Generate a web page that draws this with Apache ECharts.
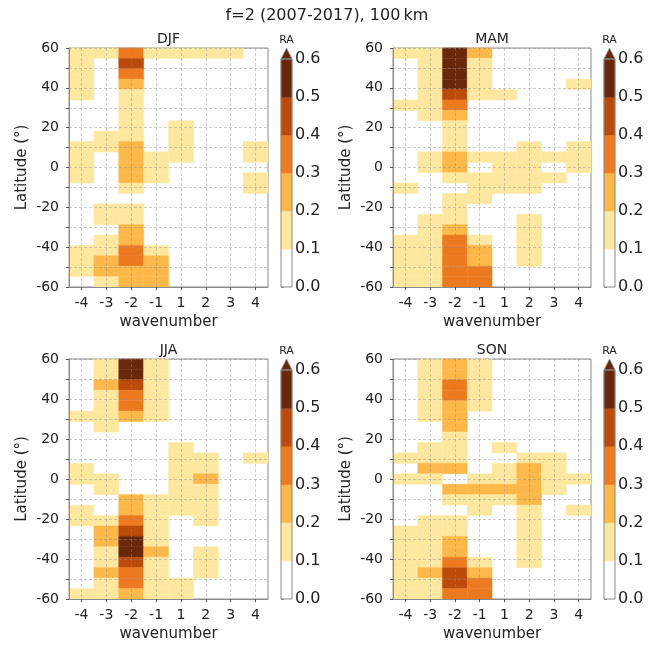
<!DOCTYPE html>
<html>
<head>
<meta charset="utf-8">
<script src="https://cdn.jsdelivr.net/npm/echarts@6/dist/echarts.min.js"></script>
<style>
  html, body { margin: 0; padding: 0; background: #ffffff; }
  #chart { width: 655px; height: 645px; }
</style>
</head>
<body>
<div id="chart"></div>
<script>
// Zonal wavenumber columns and latitude bands (centres of 23 equal bands, 60N to 60S)
const wavenumbers = ['-4', '-3', '-2', '-1', '1', '2', '3', '4'];
const latCenters = [57.39, 52.17, 46.96, 41.74, 36.52, 31.30, 26.09, 20.87, 15.65, 10.43, 5.22, 0,
                    -5.22, -10.43, -15.65, -20.87, -26.09, -31.30, -36.52, -41.74, -46.96, -52.17, -57.39];
const latStep = 120 / 23;

// Colour levels of RA
const raLevels = [0, 0.1, 0.2, 0.3, 0.4, 0.5, 0.6];
const raColors = ['#ffffff', '#fee8a0', '#fdb84a', '#ee7a20', '#bc4a0a', '#6a280a'];

// RA per latitude band (rows, north to south) and wavenumber (columns)
const raDJF = [
  [.15, .15, .35, .15, .15, .15, .15, 0],
  [.15, 0, .45, 0, 0, 0, 0, 0],
  [.15, 0, .35, 0, 0, 0, 0, 0],
  [.15, 0, .25, 0, 0, 0, 0, 0],
  [.15, 0, .15, 0, 0, 0, 0, 0],
  [0, 0, .15, 0, 0, 0, 0, 0],
  [0, 0, .15, 0, 0, 0, 0, 0],
  [0, 0, .15, 0, .15, 0, 0, 0],
  [0, .15, .15, 0, .15, 0, 0, 0],
  [.15, .15, .25, 0, .15, 0, 0, .15],
  [.15, 0, .25, .15, .15, 0, 0, .15],
  [.15, 0, .25, .15, 0, 0, 0, 0],
  [.15, 0, .25, .15, 0, 0, 0, .15],
  [0, 0, .15, 0, 0, 0, 0, .15],
  [0, 0, 0, 0, 0, 0, 0, 0],
  [0, .15, .15, 0, 0, 0, 0, 0],
  [0, .15, .15, 0, 0, 0, 0, 0],
  [0, 0, .25, 0, 0, 0, 0, 0],
  [0, .15, .25, 0, 0, 0, 0, 0],
  [.15, .15, .35, .15, 0, 0, 0, 0],
  [.15, .25, .35, .25, 0, 0, 0, 0],
  [.15, .25, .25, .25, 0, 0, 0, 0],
  [0, .15, .25, .25, 0, 0, 0, 0]
];
const raMAM = [
  [.15, .15, .55, .25, 0, 0, 0, 0],
  [0, .15, .55, .15, 0, 0, 0, 0],
  [0, .15, .55, .15, 0, 0, 0, 0],
  [0, .15, .55, .15, 0, 0, 0, .15],
  [0, .15, .45, .15, .15, 0, 0, 0],
  [.15, .15, .35, 0, 0, 0, 0, 0],
  [0, .15, .25, 0, 0, 0, 0, 0],
  [0, 0, .15, 0, 0, 0, 0, 0],
  [0, 0, .15, 0, 0, 0, 0, 0],
  [0, 0, .15, 0, 0, .15, 0, .15],
  [0, .15, .25, .15, .15, .15, .15, .15],
  [0, .15, .25, 0, .15, .15, 0, .15],
  [0, 0, .15, .15, .15, .15, .15, 0],
  [.15, 0, 0, .15, .15, .15, 0, 0],
  [0, 0, .15, .15, 0, 0, 0, 0],
  [0, 0, .15, 0, 0, 0, 0, 0],
  [0, .15, .15, 0, 0, .15, 0, 0],
  [0, .15, .25, 0, 0, .15, 0, 0],
  [.15, .15, .35, .15, 0, .15, 0, 0],
  [.15, .15, .35, .25, 0, .15, 0, 0],
  [.15, .15, .35, .25, 0, .15, 0, 0],
  [.15, .15, .35, .35, 0, 0, 0, 0],
  [.15, .15, .35, .35, 0, 0, 0, 0]
];
const raJJA = [
  [0, .15, .55, .15, 0, 0, 0, 0],
  [0, .15, .55, .15, 0, 0, 0, 0],
  [0, .25, .45, .15, 0, 0, 0, 0],
  [0, .15, .35, .15, 0, 0, 0, 0],
  [0, .15, .35, .15, 0, 0, 0, 0],
  [.15, .15, .25, .15, 0, 0, 0, 0],
  [0, .15, 0, 0, 0, 0, 0, 0],
  [0, 0, 0, 0, 0, 0, 0, 0],
  [0, 0, 0, 0, .15, 0, 0, 0],
  [0, 0, 0, 0, .15, .15, 0, .15],
  [.15, 0, 0, 0, .15, .15, 0, 0],
  [.15, .15, 0, 0, .15, .25, 0, 0],
  [0, .15, 0, 0, .15, .15, 0, 0],
  [0, 0, .25, .15, .15, .15, 0, 0],
  [.15, 0, .25, .15, .15, .15, 0, 0],
  [.15, .15, .35, .15, 0, .15, 0, 0],
  [0, .25, .45, .15, 0, 0, 0, 0],
  [0, .25, .55, .15, 0, 0, 0, 0],
  [0, .15, .55, .25, 0, .15, 0, 0],
  [0, .15, .45, .15, 0, .15, 0, 0],
  [0, .25, .35, .15, 0, .15, 0, 0],
  [0, .15, .35, .15, .15, 0, 0, 0],
  [.15, .15, .25, .15, .15, 0, 0, 0]
];
const raSON = [
  [0, .15, .25, .15, 0, 0, 0, 0],
  [0, .15, .25, .15, 0, 0, 0, 0],
  [0, .15, .35, .15, 0, 0, 0, 0],
  [0, .15, .35, .15, 0, 0, 0, 0],
  [0, .15, .25, .15, 0, 0, 0, 0],
  [0, .15, .25, 0, 0, 0, 0, 0],
  [0, 0, .25, 0, 0, 0, 0, 0],
  [0, 0, .15, 0, 0, 0, 0, 0],
  [0, .15, .15, 0, .15, 0, 0, 0],
  [.15, .15, .15, 0, 0, .15, .15, 0],
  [0, .25, .25, 0, .15, .25, .15, 0],
  [.15, .15, 0, .15, .15, .25, .15, .15],
  [0, 0, .25, .25, .25, .25, .15, 0],
  [0, 0, .15, .15, .15, .25, 0, 0],
  [0, 0, 0, .15, 0, .15, 0, .15],
  [0, .15, .15, 0, 0, .15, 0, 0],
  [.15, .15, .15, 0, 0, .15, 0, 0],
  [.15, .15, .25, 0, 0, .15, 0, 0],
  [.15, .15, .25, 0, 0, .15, 0, 0],
  [.15, .15, .35, .15, 0, .15, 0, 0],
  [.15, .25, .45, .25, 0, 0, 0, 0],
  [.15, .15, .45, .35, 0, 0, 0, 0],
  [.15, .15, .35, .35, 0, 0, 0, 0]
];

const seasons = ['DJF', 'MAM', 'JJA', 'SON'];
const seasonData = [raDJF, raMAM, raJJA, raSON];
const suptitle = 'f=2 (2007-2017), 100\u2009km';

// Panel geometry (pixels)
const panels = [
  { left: 69,  top: 48,  width: 199, height: 239, cbLeft: 281, cbTop: 59,  cbHeight: 228 },
  { left: 393, top: 48,  width: 198, height: 239, cbLeft: 604, cbTop: 59,  cbHeight: 228 },
  { left: 69,  top: 359, width: 199, height: 240, cbLeft: 281, cbTop: 370, cbHeight: 229 },
  { left: 393, top: 359, width: 198, height: 240, cbLeft: 604, cbTop: 370, cbHeight: 229 }
];
const cbWidth = 11;
const FONT = 'DejaVu Sans';
const gridLineStyle = { color: 'rgba(140,140,140,0.55)', type: [3, 2], width: 0.8 };
const frameColor = '#8c8c8c';

function renderCell(params, api) {
  const v = api.value(2);
  if (!(v >= 0.1)) return null;
  const c = api.value(0);
  const lat = api.value(1);
  const pTop = api.coord([c, lat + latStep / 2]);
  const pBot = api.coord([c, lat - latStep / 2]);
  const w = api.size([1, 0])[0];
  const color = api.visual('color');
  return {
    type: 'rect',
    shape: { x: pTop[0] - w / 2, y: pTop[1], width: w, height: pBot[1] - pTop[1] },
    style: { fill: color, stroke: color, lineWidth: 0.5 }
  };
}

function renderBar(params, api) {
  const lo = api.value(0), hi = api.value(1), ext = api.value(3);
  const color = api.visual('color');
  const a = api.coord([0, hi]);
  const b = api.coord([1, lo]);
  if (ext) {
    return {
      type: 'polygon',
      shape: { points: [[a[0], a[1]], [b[0], a[1]], [(a[0] + b[0]) / 2, a[1] - 11]] },
      style: { fill: color, stroke: frameColor, lineWidth: 0.8 }
    };
  }
  return {
    type: 'rect',
    shape: { x: a[0], y: a[1], width: b[0] - a[0], height: b[1] - a[1] },
    style: { fill: color, stroke: color, lineWidth: 0.5 }
  };
}

const grids = [], xAxes = [], yAxes = [], series = [], graphics = [];

panels.forEach((p, i) => {
  // heatmap panel
  grids.push({ left: p.left, top: p.top, width: p.width, height: p.height,
               show: true, borderColor: frameColor, borderWidth: 1, backgroundColor: 'transparent' });
  xAxes.push({
    type: 'category', gridIndex: 2 * i, data: wavenumbers, boundaryGap: true, z: 5,
    position: 'bottom',
    name: 'wavenumber', nameLocation: 'middle', nameGap: 28,
    nameTextStyle: { fontFamily: FONT, fontSize: 15, color: '#222' },
    axisLine: { show: true, onZero: false, lineStyle: { color: frameColor } },
    axisTick: { show: true, alignWithLabel: true, length: 3, lineStyle: { color: '#555' } },
    axisLabel: { fontFamily: FONT, fontSize: 14, color: '#222', margin: 9 },
    splitLine: { show: true, alignWithLabel: true, lineStyle: gridLineStyle }
  });
  yAxes.push({
    type: 'value', gridIndex: 2 * i, min: -60, max: 60, interval: 10, z: 5,
    name: 'Latitude (°)', nameLocation: 'middle', nameGap: 39,
    nameTextStyle: { fontFamily: FONT, fontSize: 15, color: '#222' },
    axisLine: { show: true, onZero: false, lineStyle: { color: frameColor } },
    axisTick: { show: true, length: 3, lineStyle: { color: '#555' } },
    axisLabel: { fontFamily: FONT, fontSize: 14, color: '#222', margin: 10,
                 formatter: v => (v % 20 === 0 ? String(v) : '') },
    splitLine: { show: true, lineStyle: gridLineStyle }
  });
  const cells = [];
  seasonData[i].forEach((row, r) => {
    row.forEach((v, c) => cells.push([c, latCenters[r], v]));
  });
  series.push({
    type: 'custom', name: seasons[i], xAxisIndex: 2 * i, yAxisIndex: 2 * i,
    renderItem: renderCell, data: cells, encode: { x: 0, y: 1 }, z: 2, silent: true
  });

  // colour bar
  grids.push({ left: p.cbLeft, top: p.cbTop, width: cbWidth, height: p.cbHeight,
               show: true, borderColor: frameColor, borderWidth: 1, backgroundColor: 'transparent', z: 4 });
  xAxes.push({ type: 'value', gridIndex: 2 * i + 1, min: 0, max: 1, show: false });
  yAxes.push({
    type: 'value', gridIndex: 2 * i + 1, min: 0, max: 0.6, interval: 0.1, position: 'right',
    axisLine: { show: false },
    axisTick: { show: true, length: 3, lineStyle: { color: '#555' } },
    axisLabel: { fontFamily: FONT, fontSize: 16, color: '#222', margin: 3,
                 formatter: v => v.toFixed(1) },
    splitLine: { show: false }
  });
  const bars = [];
  for (let k = 0; k < raLevels.length - 1; k++) {
    bars.push([raLevels[k], raLevels[k + 1], (raLevels[k] + raLevels[k + 1]) / 2, 0]);
  }
  const top = raLevels[raLevels.length - 1];
  bars.push([top, top, top - 0.05, 1]);
  series.push({
    type: 'custom', xAxisIndex: 2 * i + 1, yAxisIndex: 2 * i + 1,
    renderItem: renderBar, data: bars, encode: { y: [0, 1] }, z: 2, silent: true
  });

  // titles
  graphics.push({ type: 'text', x: p.left + p.width / 2, y: p.top - 9,
    style: { text: seasons[i], font: '14px "' + FONT + '"', fill: '#222', textAlign: 'center', textVerticalAlign: 'middle' } });
  graphics.push({ type: 'text', x: p.cbLeft + cbWidth / 2, y: p.cbTop - 19,
    style: { text: 'RA', font: '11px "' + FONT + '"', fill: '#222', textAlign: 'center', textVerticalAlign: 'middle' } });
});

graphics.push({ type: 'text', x: 327, y: 16,
  style: { text: suptitle, font: '16px "' + FONT + '"', fill: '#222', textAlign: 'center', textVerticalAlign: 'middle' } });

const pieces = [{ lt: raLevels[1], color: raColors[0] }];
for (let k = 1; k < raColors.length; k++) {
  const piece = { gte: raLevels[k], color: raColors[k] };
  if (k < raColors.length - 1) piece.lt = raLevels[k + 1];
  pieces.push(piece);
}

const chart = echarts.init(document.getElementById('chart'), null, { renderer: 'canvas' });
chart.setOption({
  animation: false,
  backgroundColor: '#ffffff',
  grid: grids,
  xAxis: xAxes,
  yAxis: yAxes,
  visualMap: {
    type: 'piecewise', show: false, dimension: 2,
    seriesIndex: series.map((s, i) => i),
    pieces: pieces
  },
  graphic: graphics,
  series: series
});
</script>
</body>
</html>
